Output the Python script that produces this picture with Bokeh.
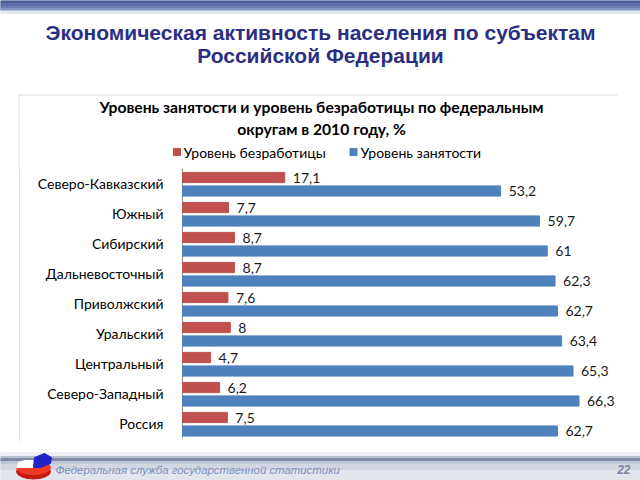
from bokeh.plotting import figure
from bokeh.layouts import column
from bokeh.models import Range1d, FactorRange, ColumnDataSource
from bokeh.transform import dodge
from bokeh.core.properties import value
from bokeh.embed import file_html
from bokeh.resources import INLINE

# ---------------- data ----------------
categories = ["Северо-Кавказский", "Южный", "Сибирский", "Дальневосточный",
              "Приволжский", "Уральский", "Центральный", "Северо-Западный", "Россия"]
unemployment = [17.1, 7.7, 8.7, 8.7, 7.6, 8, 4.7, 6.2, 7.5]
employment = [53.2, 59.7, 61, 62.3, 62.7, 63.4, 65.3, 66.3, 62.7]
series_names = ["Уровень безработицы", "Уровень занятости"]
series_colors = ["#C0504D", "#4F81BD"]
slide_title = ["Экономическая активность населения по субъектам", "Российской Федерации"]
chart_title = ["Уровень занятости и уровень безработицы по федеральным", "округам в 2010 году, %"]
footer_text = "Федеральная служба государственной статистики"
page_number = "22"


def fmt(v):
    return ("%g" % v).replace(".", ",")


W = 640
X0, X1 = 0, 640          # page-pixel coordinates used for layout decoration
ZERO_PX, PX_PER_UNIT = 182, 5.98


def panel(h, top, bottom):
    p = figure(width=W, height=h, x_range=Range1d(X0, X1), y_range=Range1d(bottom, top),
               x_axis_type=None, y_axis_type=None, toolbar_location=None,
               output_backend="svg", min_border=0, outline_line_color=None,
               background_fill_color="white", border_fill_color="white")
    return p


# ---------------- header (titles, legend) ----------------
pa = panel(168, 0, 168)
pa.quad(left=X0, right=X1, top=[0, 3, 6, 8, 10, 11], bottom=[3, 6, 8, 10, 11, 13],
        color=["#4d5f98", "#5b6ea6", "#6b7eb2", "#8395c2", "#b3bfdc", "#e3e8f2"])
pa.text(x=320, y=[32, 55], text=slide_title, text_align="center", text_baseline="middle",
        text_font=value("Liberation Sans"), text_font_style="bold",
        text_font_size=value("21px"), text_color="#2b2f84")
# chart box edges
pa.segment(x0=18, x1=617, y0=94.5, y1=94.5, line_color="#e2e2e2", line_width=1)
pa.segment(x0=18.5, x1=18.5, y0=94, y1=168, line_color="#e2e2e2", line_width=1)
pa.text(x=321, y=[106, 128], text=chart_title, text_align="center", text_baseline="middle",
        text_font=value("Lato"), text_font_style="bold",
        text_font_size=value("15.7px"), text_color="#000000")
# legend
leg = ColumnDataSource(dict(x=[176.5, 353], tx=[183, 360], name=series_names, color=series_colors))
pa.scatter(x="x", y=151.5, marker="square", size=7, color="color", source=leg)
pa.text(x="tx", y=152, text="name", source=leg, text_baseline="middle",
        text_font=value("Lato"), text_font_size=value("14px"), text_color="#000000")

# ---------------- bars ----------------
src = ColumnDataSource(dict(cat=categories, un=unemployment, em=employment,
                            un_l=[fmt(v) for v in unemployment],
                            em_l=[fmt(v) for v in employment]))
pb = figure(width=W, height=270,
            x_range=Range1d((X0 - ZERO_PX) / PX_PER_UNIT, (X1 - ZERO_PX) / PX_PER_UNIT),
            y_range=FactorRange(factors=categories[::-1]),
            x_axis_type=None, y_axis_type=None, toolbar_location=None,
            output_backend="svg", min_border=0, outline_line_color=None)
pb.extra_x_ranges = {"px": Range1d(X0, X1)}
pb.vspan(x=[18.5], x_range_name="px", line_color="#e2e2e2", line_width=1)
pb.vspan(x=[181.5], x_range_name="px", line_color="#8a8a8a", line_width=1)
pb.hbar(y=dodge("cat", 0.2, range=pb.y_range), left=0, right="un", height=0.34,
        color=series_colors[0], source=src)
pb.hbar(y=dodge("cat", -0.25, range=pb.y_range), left=0, right="em", height=0.34,
        color=series_colors[1], source=src)
pb.text(x="un", y=dodge("cat", 0.2, range=pb.y_range), text="un_l", source=src,
        x_offset=8, text_baseline="middle", text_font=value("Lato"),
        text_font_size=value("14px"), text_color="#1a1a1a")
pb.text(x="em", y=dodge("cat", -0.25, range=pb.y_range), text="em_l", source=src,
        x_offset=8, text_baseline="middle", text_font=value("Lato"),
        text_font_size=value("14px"), text_color="#1a1a1a")
pb.text(x=163, y="cat", text="cat", source=src, x_range_name="px",
        text_align="right", text_baseline="middle", text_font=value("Lato"),
        text_font_size=value("14px"), text_color="#000000")

# ---------------- footer ----------------
pc = panel(42, 438, 480)
pc.segment(x0=18.5, x1=18.5, y0=438, y1=441, line_color="#e2e2e2", line_width=1)
pc.quad(left=X0, right=X1, top=[452, 456, 458, 461, 464, 470],
        bottom=[456, 458, 461, 464, 470, 480],
        color=["#eef0f5", "#b8bfd0", "#7f8ba7", "#bcc3d2", "#d2d6e0", "#e2e5ec"])
# logo
pc.ellipse(x=33, y=471, width=34, height=15, color="#c81a10")
pc.ellipse(x=33, y=467, width=34, height=14, color="#f03a28")
pc.patch(x=[33, 16, 18, 24, 33], y=[467, 467, 462, 460, 460], color="#ffffff")
pc.patch(x=[33, 34, 44, 51, 50, 40], y=[467, 457, 453, 457, 463, 467], color="#2024c8")
pc.text(x=55, y=469, text=[footer_text], text_baseline="middle",
        text_font=value("Liberation Sans"), text_font_style="italic",
        text_font_size=value("11.4px"), text_color="#7f8ec0")
pc.text(x=630, y=469, text=[page_number], text_baseline="middle", text_align="right",
        text_font=value("Liberation Sans"), text_font_style="bold italic",
        text_font_size=value("12px"), text_color="#7c84a0")

layout = column(pa, pb, pc, spacing=0)
open("out.html", "w").write(file_html(layout, INLINE))
